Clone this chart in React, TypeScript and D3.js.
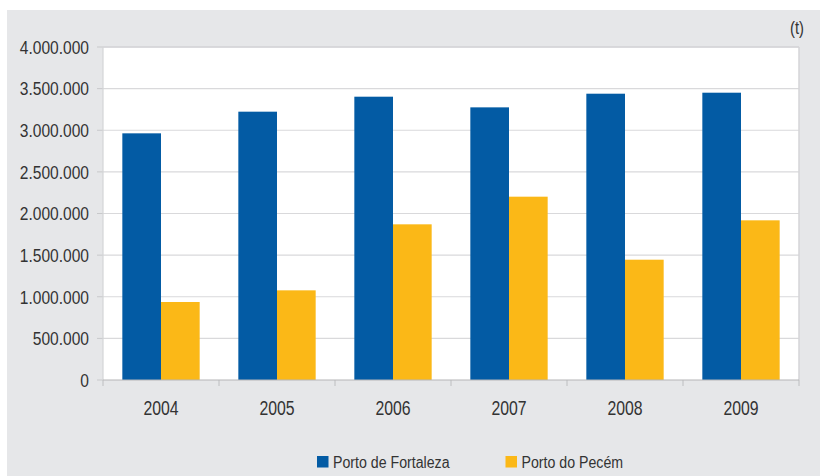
import React from "react";
import * as d3 from "d3";

const years = ["2004", "2005", "2006", "2007", "2008", "2009"];
const fortaleza = [2963000, 3223000, 3403000, 3275000, 3439000, 3451000];
const pecem = [937000, 1077000, 1870000, 2202000, 1445000, 1918000];
const yTicks = [0, 500000, 1000000, 1500000, 2000000, 2500000, 3000000, 3500000, 4000000];
const seriesNames = ["Porto de Fortaleza", "Porto do Pecém"];
const seriesColors = ["#035BA4", "#FBB817"];

const W = 820;
const H = 476;
const FONT = "'Liberation Sans', Arial, sans-serif";
const SX = 0.82;

function NText(props: { x: number; y: number; anchor?: string; size: number; children: React.ReactNode }) {
  const { x, y, anchor = "start", size, children } = props;
  return (
    <g transform={`translate(${x},${y}) scale(${SX},1)`}>
      <text x={0} y={0} dy="0.36em" textAnchor={anchor as any} fontSize={size} fill="#333">
        {children}
      </text>
    </g>
  );
}

export default function App() {
  const left = 103, right = 799, top = 47, bottom = 380;
  const x = d3.scaleBand<string>().domain(years).range([left, right]).paddingInner(1 / 3).paddingOuter(1 / 6);
  const x1 = d3.scaleBand<number>().domain([0, 1]).range([0, x.bandwidth()]);
  const y = d3.scaleLinear().domain([0, 4000000]).range([bottom, top]);
  const fmt = (v: number) => d3.format(",")(v).replace(/,/g, ".");
  const step = (right - left) / years.length;
  const series = [fortaleza, pecem];

  return (
    <svg width={W} height={H} style={{ position: "absolute", left: 0, top: 0, display: "block" }} fontFamily={FONT}>
      <rect x={0} y={0} width={W} height={H} fill="#ffffff" />
      <rect x={7} y={10} width={W - 7} height={H - 10} fill="#E6E7E9" />
      <rect x={left} y={top} width={right - left} height={bottom - top} fill="#ffffff" />
      {yTicks.map((t) => (
        <g key={t}>
          {t > 0 && <line x1={left} x2={right} y1={y(t)} y2={y(t)} stroke="#D9D9DB" strokeWidth={1.2} />}
          <line x1={97} x2={left} y1={y(t)} y2={y(t)} stroke="#C8C9CB" strokeWidth={1} />
          <NText x={89} y={y(t)} anchor="end" size={19}>
            {fmt(t)}
          </NText>
        </g>
      ))}
      <line x1={left} x2={left} y1={top} y2={bottom} stroke="#D4D5D7" strokeWidth={1.2} />
      <line x1={right} x2={right} y1={top} y2={bottom} stroke="#D4D5D7" strokeWidth={1.5} />
      <line x1={left} x2={right} y1={top} y2={top} stroke="#D4D5D7" strokeWidth={1.5} />
      {years.map((yr, i) => (
        <g key={yr}>
          {series.map((s, k) => (
            <rect
              key={k}
              x={(x(yr) as number) + (x1(k) as number)}
              y={y(s[i])}
              width={x1.bandwidth()}
              height={bottom - y(s[i])}
              fill={seriesColors[k]}
            />
          ))}
          <NText x={(x(yr) as number) + x.bandwidth() / 2} y={408} anchor="middle" size={19.3}>
            {yr}
          </NText>
        </g>
      ))}
      {d3.range(years.length + 1).map((i) => (
        <line key={i} x1={left + i * step} x2={left + i * step} y1={bottom} y2={bottom + 6} stroke="#BDBEC0" strokeWidth={1} />
      ))}
      <line x1={left} x2={right} y1={bottom} y2={bottom} stroke="#B5B6B8" strokeWidth={1.2} />
      <NText x={804} y={28} anchor="end" size={18}>(t)</NText>
      {seriesNames.map((n, k) => {
        const lx = k === 0 ? 317 : 505.5;
        return (
          <g key={n}>
            <rect x={lx} y={456} width={11.5} height={11.5} fill={seriesColors[k]} />
            <NText x={lx + 16} y={461.5} size={17.3}>
              {n}
            </NText>
          </g>
        );
      })}
    </svg>
  );
}
